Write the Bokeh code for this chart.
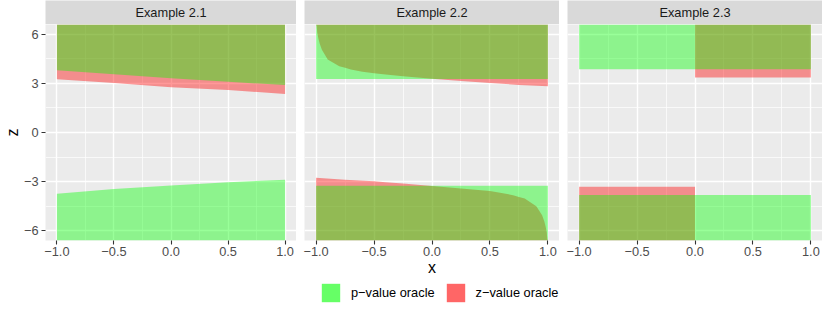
import numpy as np
from bokeh.plotting import figure
from bokeh.layouts import row, column
from bokeh.models import Range1d, FixedTicker, Legend, LegendItem, ColumnDataSource
from bokeh.core.properties import value
from bokeh.embed import file_html
from bokeh.resources import INLINE

# ---------------- data ----------------
PANELS = ["Example 2.1", "Example 2.2", "Example 2.3"]
SERIES = ["p\u2212value oracle", "z\u2212value oracle"]
X_TICKS = [-1.0, -0.5, 0.0, 0.5, 1.0]
X_TICK_LABELS = ["\u22121.0", "\u22120.5", "0.0", "0.5", "1.0"]
X_MINOR = [-0.75, -0.25, 0.25, 0.75]
Y_TICKS = [-6, -3, 0, 3, 6]
Y_TICK_LABELS = ["\u22126", "\u22123", "0", "3", "6"]
Y_MINOR = [-4.5, -1.5, 1.5, 4.5]
INF = np.inf

# Example 2.1
ex21_x = [-1.0, -0.5, 0.0, 0.5, 1.0]
ex21_p_upper = [3.80, 3.56, 3.32, 3.10, 2.90]      # p-value region: from here to +Inf
ex21_p_lower = [-3.74, -3.45, -3.24, -3.04, -2.88]  # p-value region: -Inf to here
ex21_z_upper = [3.25, 3.02, 2.76, 2.60, 2.36]       # z-value region: from here to +Inf

# Example 2.2
ex22_flat_x = [-1.0, 1.0]
ex22_p_upper = [3.27, 3.27]
ex22_p_lower = [-3.25, -3.25]
ex22_zu_x = [-1.0, -0.995, -0.99, -0.98, -0.97, -0.95, -0.9, -0.8, -0.75, -0.7, -0.6,
             -0.5, -0.4, -0.25, 0.0, 0.25, 0.5, 0.75, 1.0]
ex22_z_upper = [INF, 6.5, 6.1, 5.75, 5.46, 5.05, 4.46, 4.05, 3.96, 3.85, 3.72,
                3.62, 3.54, 3.44, 3.29, 3.14, 3.02, 2.91, 2.82]
ex22_zl_x = [-1.0, -0.75, -0.5, -0.4, -0.25, 0.0, 0.25, 0.4, 0.5, 0.6, 0.7, 0.75,
             0.8, 0.9, 0.95, 0.97, 0.98, 0.99, 0.995, 1.0]
ex22_z_lower = [-2.77, -2.88, -2.98, -3.04, -3.12, -3.27, -3.42, -3.52, -3.58, -3.70,
                -3.83, -3.94, -4.03, -4.50, -5.05, -5.46, -5.75, -6.1, -6.5, -INF]

# Example 2.3
ex23_p_x = [-1.0, 1.0]
ex23_p_upper = [3.86, 3.86]
ex23_p_lower = [-3.82, -3.82]
ex23_zu_x = [0.0, 1.0]
ex23_z_upper = [3.36, 3.36]
ex23_zl_x = [-1.0, 0.0]
ex23_z_lower = [-3.32, -3.32]

# ---------------- styling ----------------
FONT = "Liberation Sans"
GREEN = "#00FF00"
RED = "#FF0000"
KEY_GREEN = "#66FF66"
KEY_RED = "#FF6666"
RIB_ALPHA = 0.4
XLIM = (-1.1, 1.1)
YLIM = (-6.6, 6.6)
TEXT_SIZE = "12.8px"
TITLE_SIZE = "16px"

TOTAL_W = 822
TOTAL_H = 304
B1 = 41        # left border of first panel (tick labels + z label)
GAP = 8        # gap between panels
PW = 255       # panel width
SH = 24        # strip height
PH = 216       # panel height
BB = 40        # bottom border (axis + x label)
LH = TOTAL_H - SH - PH - BB   # legend strip height
LEGEND_X = 319


def clip(v):
    return np.clip(np.asarray(v, dtype=float), YLIM[0], YLIM[1])


def upper(x, lo):
    return dict(x=x, y1=clip(lo), y2=clip([INF] * len(x)))


def lower(x, hi):
    return dict(x=x, y1=clip([-INF] * len(x)), y2=clip(hi))


ribbons = [
    ([upper(ex21_x, ex21_z_upper)],
     [upper(ex21_x, ex21_p_upper), lower(ex21_x, ex21_p_lower)]),
    ([upper(ex22_zu_x, ex22_z_upper), lower(ex22_zl_x, ex22_z_lower)],
     [upper(ex22_flat_x, ex22_p_upper), lower(ex22_flat_x, ex22_p_lower)]),
    ([upper(ex23_zu_x, ex23_z_upper), lower(ex23_zl_x, ex23_z_lower)],
     [upper(ex23_p_x, ex23_p_upper), lower(ex23_p_x, ex23_p_lower)]),
]


def style_axis(ax):
    ax.axis_line_color = None
    ax.major_tick_line_color = "#333333"
    ax.major_tick_line_width = 1.1
    ax.major_tick_out = 4
    ax.major_tick_in = 0
    ax.minor_tick_line_color = None
    ax.major_label_text_font = FONT
    ax.major_label_text_font_size = TEXT_SIZE
    ax.major_label_text_color = "#4D4D4D"
    ax.major_label_standoff = 2
    ax.axis_label_text_font = FONT
    ax.axis_label_text_font_size = TITLE_SIZE
    ax.axis_label_text_font_style = "normal"
    ax.axis_label_text_color = "black"


def make_panel(i, left_border, show_y):
    p = figure(width=left_border + PW, height=PH + BB,
               x_range=Range1d(*XLIM), y_range=Range1d(*YLIM),
               output_backend="svg", toolbar_location=None,
               y_axis_location="left" if show_y else None,
               min_border_left=left_border, min_border_right=0,
               min_border_top=0, min_border_bottom=BB)
    p.background_fill_color = "#EBEBEB"
    p.border_fill_color = "white"
    p.outline_line_color = None
    p.xgrid.ticker = FixedTicker(ticks=X_TICKS, minor_ticks=X_MINOR)
    p.ygrid.ticker = FixedTicker(ticks=Y_TICKS, minor_ticks=Y_MINOR)
    for g in (p.xgrid, p.ygrid):
        g.grid_line_color = "white"
        g.grid_line_width = 1.42
        g.minor_grid_line_color = "white"
        g.minor_grid_line_width = 0.71
    p.xaxis.ticker = FixedTicker(ticks=X_TICKS, minor_ticks=[])
    p.xaxis.major_label_overrides = dict(zip(X_TICKS, X_TICK_LABELS))
    style_axis(p.xaxis[0])
    if show_y:
        p.yaxis.ticker = FixedTicker(ticks=Y_TICKS, minor_ticks=[])
        p.yaxis.major_label_overrides = {float(k): v for k, v in zip(Y_TICKS, Y_TICK_LABELS)}
        style_axis(p.yaxis[0])
        p.yaxis.major_label_standoff = 3
        p.yaxis.axis_label = "z"
        p.yaxis.axis_label_standoff = 0
    reds, greens = ribbons[i]
    for d in reds:
        p.varea(x="x", y1="y1", y2="y2", source=ColumnDataSource(d),
                fill_color=RED, fill_alpha=RIB_ALPHA)
    for d in greens:
        p.varea(x="x", y1="y1", y2="y2", source=ColumnDataSource(d),
                fill_color=GREEN, fill_alpha=RIB_ALPHA)
    return p


def make_strip(i, left_border):
    s = figure(width=left_border + PW, height=SH, x_range=Range1d(0, 1), y_range=Range1d(0, 1),
               output_backend="svg", toolbar_location=None,
               x_axis_location=None, y_axis_location=None,
               min_border_left=left_border, min_border_right=0,
               min_border_top=0, min_border_bottom=0)
    s.background_fill_color = "#D9D9D9"
    s.border_fill_color = "white"
    s.outline_line_color = None
    s.grid.visible = False
    s.text(x=[0.5], y=[0.5], text=[PANELS[i]], text_align="center", text_baseline="middle",
           text_font=value(FONT), text_font_size=TEXT_SIZE, text_color="#1A1A1A")
    return s


p1 = make_panel(0, B1, True)
p2 = make_panel(1, GAP, False)
p3 = make_panel(2, GAP, False)

p2.xaxis.axis_label = "x"
p2.xaxis.axis_label_standoff = 0

# legend strip (legend proxies carry no drawable coordinates)
lf = figure(width=TOTAL_W, height=LH, x_range=Range1d(0, 1), y_range=Range1d(0, 1),
            output_backend="svg", toolbar_location=None,
            x_axis_location=None, y_axis_location=None,
            min_border_left=0, min_border_right=0, min_border_top=0, min_border_bottom=0)
lf.background_fill_color = "white"
lf.border_fill_color = "white"
lf.outline_line_color = None
lf.grid.visible = False
nan = [np.nan]
r_p = lf.quad(left=nan, right=nan, top=nan, bottom=nan, fill_color=KEY_GREEN, line_color=None)
r_z = lf.quad(left=nan, right=nan, top=nan, bottom=nan, fill_color=KEY_RED, line_color=None)
legend = Legend(items=[LegendItem(label=SERIES[0], renderers=[r_p]),
                       LegendItem(label=SERIES[1], renderers=[r_z])],
                orientation="horizontal", location=(LEGEND_X, 0),
                glyph_width=23, glyph_height=23, label_standoff=9, spacing=9,
                padding=0, margin=0, border_line_color=None, background_fill_alpha=0,
                label_text_font=FONT, label_text_font_size=TEXT_SIZE, label_text_color="black",
                label_height=23)
lf.add_layout(legend)

layout = column(
    row(
        column(make_strip(0, B1), p1),
        column(make_strip(1, GAP), p2),
        column(make_strip(2, GAP), p3),
    ),
    lf,
)

open("out.html", "w").write(file_html(layout, INLINE))
